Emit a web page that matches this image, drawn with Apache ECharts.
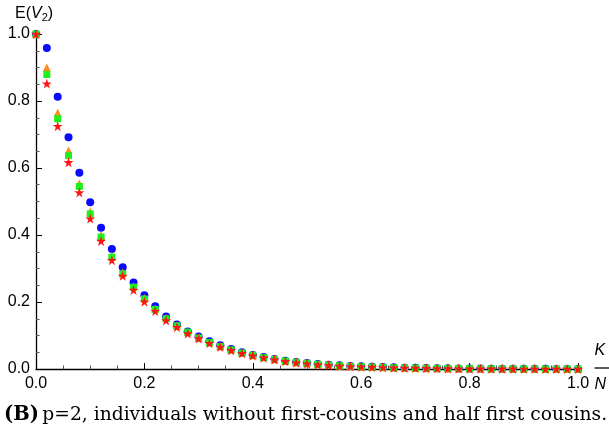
<!DOCTYPE html>
<html>
<head>
<meta charset="utf-8">
<script src="https://cdn.jsdelivr.net/npm/echarts@6/dist/echarts.min.js"></script>
<style>
  html, body { margin: 0; padding: 0; background: #fff; }
  #chart { width: 609px; height: 434px; }
</style>
</head>
<body>
<div id="chart"></div>
<script>
// K/N sample points
const kOverN = [
  0.00, 0.02, 0.04, 0.06, 0.08, 0.10, 0.12, 0.14, 0.16, 0.18,
  0.20, 0.22, 0.24, 0.26, 0.28, 0.30, 0.32, 0.34, 0.36, 0.38,
  0.40, 0.42, 0.44, 0.46, 0.48, 0.50, 0.52, 0.54, 0.56, 0.58,
  0.60, 0.62, 0.64, 0.66, 0.68, 0.70, 0.72, 0.74, 0.76, 0.78,
  0.80, 0.82, 0.84, 0.86, 0.88, 0.90, 0.92, 0.94, 0.96, 0.98, 1.00
];

// E(V2), one list per marker
const blueCircles = [
  1.000, 0.958, 0.813, 0.692, 0.586, 0.498, 0.422, 0.358, 0.304, 0.258,
  0.220, 0.187, 0.157, 0.133, 0.112, 0.097, 0.083, 0.071, 0.060, 0.050,
  0.042, 0.036, 0.030, 0.025, 0.021, 0.018, 0.015, 0.013, 0.011, 0.009,
  0.008, 0.007, 0.006, 0.005, 0.004, 0.0035, 0.003, 0.0025, 0.002, 0.0017,
  0.0014, 0.0012, 0.0010, 0.0008, 0.0007, 0.0006, 0.0005, 0.0004, 0.0003, 0.0002, 0.0001
];
const orangeTriangles = [
  1.000, 0.900, 0.765, 0.652, 0.554, 0.470, 0.400, 0.338, 0.288, 0.247,
  0.212, 0.180, 0.152, 0.130, 0.111, 0.094, 0.080, 0.068, 0.058, 0.049,
  0.041, 0.035, 0.029, 0.024, 0.020, 0.017, 0.014, 0.012, 0.010, 0.008,
  0.007, 0.006, 0.005, 0.004, 0.0035, 0.003, 0.0025, 0.002, 0.0017, 0.0014,
  0.0012, 0.0010, 0.0008, 0.0007, 0.0006, 0.0005, 0.0004, 0.0003, 0.0002, 0.0001, 0.0001
];
const greenSquares = [
  1.000, 0.879, 0.747, 0.637, 0.545, 0.463, 0.394, 0.334, 0.284, 0.244,
  0.209, 0.178, 0.150, 0.129, 0.110, 0.093, 0.079, 0.067, 0.057, 0.048,
  0.041, 0.034, 0.029, 0.024, 0.020, 0.017, 0.014, 0.012, 0.010, 0.008,
  0.007, 0.006, 0.005, 0.004, 0.0035, 0.003, 0.0025, 0.002, 0.0017, 0.0014,
  0.0012, 0.0010, 0.0008, 0.0007, 0.0006, 0.0005, 0.0004, 0.0003, 0.0002, 0.0001, 0.0001
];
const redStars = [
  1.000, 0.852, 0.725, 0.617, 0.527, 0.449, 0.382, 0.325, 0.278, 0.236,
  0.201, 0.173, 0.145, 0.125, 0.106, 0.091, 0.077, 0.066, 0.056, 0.047,
  0.040, 0.034, 0.028, 0.023, 0.019, 0.016, 0.013, 0.011, 0.009, 0.008,
  0.007, 0.006, 0.005, 0.004, 0.0033, 0.0028, 0.0023, 0.0019, 0.0016, 0.0013,
  0.0011, 0.0009, 0.0008, 0.0007, 0.0006, 0.0005, 0.0004, 0.0003, 0.0002, 0.0001, 0.0001
];

const caption = 'p=2, individuals without first-cousins and half first cousins.';

const STAR = 'path://M50,0 L61.2,34.5 L97.6,34.5 L68.2,55.9 L79.4,90.5 L50,69.1 L20.6,90.5 L31.8,55.9 L2.4,34.5 L38.8,34.5 Z';
const AXIS_FONT = '"Liberation Sans", Arial, sans-serif';
const SERIF = '"DejaVu Serif", serif';

function pairs(ys) {
  return kOverN.map((x, i) => [x, ys[i]]);
}

const chart = echarts.init(document.getElementById('chart'), null, { renderer: 'canvas' });

const axisCommon = {
  type: 'value',
  min: 0,
  max: 1,
  interval: 0.2,
  axisLine: { show: true, onZero: false, lineStyle: { color: '#000', width: 1.3 } },
  axisTick: { show: true, inside: true, length: 6, lineStyle: { color: '#000', width: 1 } },
  minorTick: { show: true, splitNumber: 4, length: 3.5, lineStyle: { color: '#555', width: 1 } },
  splitLine: { show: false },
  axisLabel: {
    color: '#000',
    fontFamily: AXIS_FONT,
    fontSize: 16,
    formatter: v => v.toFixed(1)
  }
};

chart.setOption({
  animation: false,
  backgroundColor: '#fff',
  grid: { left: 36, right: 31, top: 34, bottom: 65, containLabel: false },
  xAxis: Object.assign({}, axisCommon, {
    axisLabel: Object.assign({}, axisCommon.axisLabel, { margin: 7 })
  }),
  yAxis: Object.assign({}, axisCommon, {
    axisLabel: Object.assign({}, axisCommon.axisLabel, { margin: 6 })
  }),
  series: [
    {
      type: 'scatter', name: 'blue', data: pairs(blueCircles),
      symbol: 'circle', symbolSize: 8,
      itemStyle: { color: '#0a0aff', opacity: 1 }
    },
    {
      type: 'scatter', name: 'orange', data: pairs(orangeTriangles),
      symbol: 'triangle', symbolSize: 8,
      itemStyle: { color: '#ff8a1a', opacity: 1 }
    },
    {
      type: 'scatter', name: 'green', data: pairs(greenSquares),
      symbol: 'rect', symbolSize: 7,
      itemStyle: { color: '#1ef01e', opacity: 1 }
    },
    {
      type: 'scatter', name: 'red', data: pairs(redStars),
      symbol: STAR, symbolSize: 10,
      itemStyle: { color: '#ff1414', opacity: 1 }
    }
  ],
  graphic: [
    {
      // y axis name E(V2)
      type: 'text', left: 15, top: 6,
      style: {
        text: '{n|E(}{v|V}{s|2}{n|)}',
        rich: {
          n: { fontFamily: AXIS_FONT, fontSize: 16, fill: '#000' },
          v: { fontFamily: AXIS_FONT, fontSize: 16, fontStyle: 'italic', fill: '#000' },
          s: { fontFamily: AXIS_FONT, fontSize: 11, fill: '#000', padding: [8, 0, 0, 0] }
        }
      }
    },
    {
      // x axis name K / N
      type: 'group', left: 592, top: 343,
      children: [
        { type: 'text', x: 1, y: 0,
          style: { text: 'K', fontFamily: AXIS_FONT, fontSize: 16, fontStyle: 'italic', fill: '#000' } },
        { type: 'line', shape: { x1: 1, y1: 25, x2: 16, y2: 25 },
          style: { stroke: '#000', lineWidth: 1.3 } },
        { type: 'text', x: 1, y: 34,
          style: { text: 'N', fontFamily: AXIS_FONT, fontSize: 16, fontStyle: 'italic', fill: '#000' } }
      ]
    },
    {
      type: 'text', left: 4, top: 405,
      style: {
        text: '{b|(B)} {r|' + caption + '}',
        rich: {
          b: { fontFamily: SERIF, fontSize: 19.5, fontWeight: 'bold', fill: '#000' },
          r: { fontFamily: SERIF, fontSize: 18.7, fill: '#000' }
        }
      }
    }
  ]
});
</script>
</body>
</html>
